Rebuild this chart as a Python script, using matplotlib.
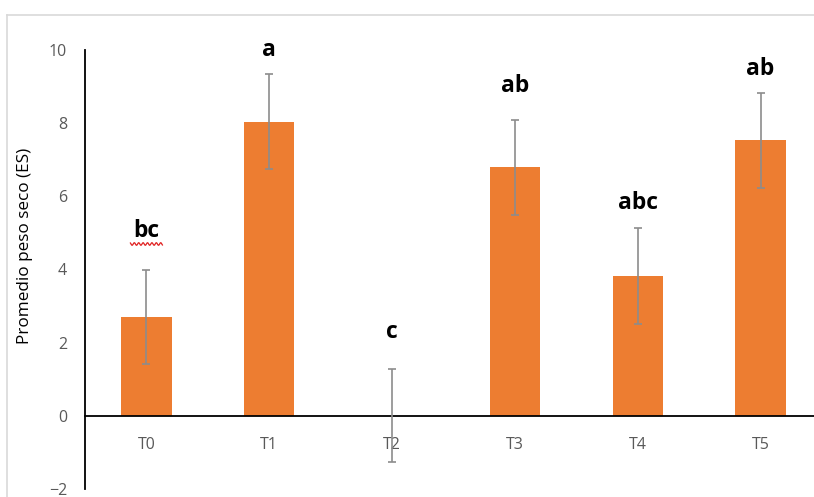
import matplotlib
matplotlib.use("Agg")
import matplotlib.pyplot as plt
import numpy as np
from matplotlib.lines import Line2D

categories = ["T0", "T1", "T2", "T3", "T4", "T5"]
means = [2.70, 8.03, 0.0, 6.79, 3.82, 7.53]
errors = [1.29, 1.30, 1.27, 1.30, 1.30, 1.30]
letters = ["bc", "a", "c", "ab", "abc", "ab"]
letter_y = [5.05, 10.0, 2.3, 9.0, 5.82, 9.48]
yticks = [-2, 0, 2, 4, 6, 8, 10]

W, H = 814, 497
fig = plt.figure(figsize=(W / 100, H / 100), dpi=100)
fig.patch.set_facecolor("white")

# outer chart-area border (light gray), left and top visible
fig.add_artist(Line2D([7 / W, 7 / W], [0, 1 - 15 / H], color="#d9d9d9", lw=1.2, transform=fig.transFigure))
fig.add_artist(Line2D([7 / W, 1], [1 - 15 / H, 1 - 15 / H], color="#d9d9d9", lw=1.2, transform=fig.transFigure))

left, right = 85 / W, 822 / W
bottom, top = 1 - 489.2 / H, 1 - 49.7 / H
ax = fig.add_axes([left, bottom, right - left, top - bottom])

x = list(range(len(categories)))
ax.bar(x, means, width=0.41, color="#ED7D31", zorder=2)
ax.errorbar(x, means, yerr=errors, fmt="none", ecolor="#8c8c8c", elinewidth=1.2,
            capsize=3.2, capthick=1.2, zorder=3)

for xi, lab, ly in zip(x, letters, letter_y):
    ax.text(xi, ly, lab, ha="center", va="center", fontsize=16.5, fontweight="bold",
            family="Open Sans", color="black", zorder=4)

ax.set_xlim(-0.5, len(categories) - 0.5)
ax.set_ylim(-2, 10)
ax.set_yticks(yticks)
ax.set_xticks(x)
ax.set_xticklabels(categories)

# red spell-check squiggle under the first label (pixel offsets from its anchor)
base = ax.transData.transform((x[0], letter_y[0]))
sx = np.linspace(-16, 16, 80)
sy = 1.3 * np.sin(sx * np.pi / 2.2)
ln = Line2D(base[0] + sx, base[1] - 13 + sy, color="#e02020", lw=0.9, transform=None)
fig.add_artist(ln)

for s in ["top", "right"]:
    ax.spines[s].set_visible(False)
ax.spines["bottom"].set_position(("data", 0))
ax.spines["bottom"].set_color("black")
ax.spines["bottom"].set_linewidth(1.3)
ax.spines["left"].set_color("black")
ax.spines["left"].set_linewidth(1.3)

ax.tick_params(axis="both", length=0, labelsize=11.5, labelcolor="#595959")
ax.tick_params(axis="x", pad=15)
ax.tick_params(axis="y", pad=13)
for t in ax.get_xticklabels() + ax.get_yticklabels():
    t.set_family("Open Sans")

ax.set_ylabel("Promedio peso seco (ES)", fontsize=12.3, family="Open Sans", color="black")
ax.yaxis.set_label_coords(-0.0706, 0.553)

fig.savefig("out.png", dpi=100, facecolor="white")
